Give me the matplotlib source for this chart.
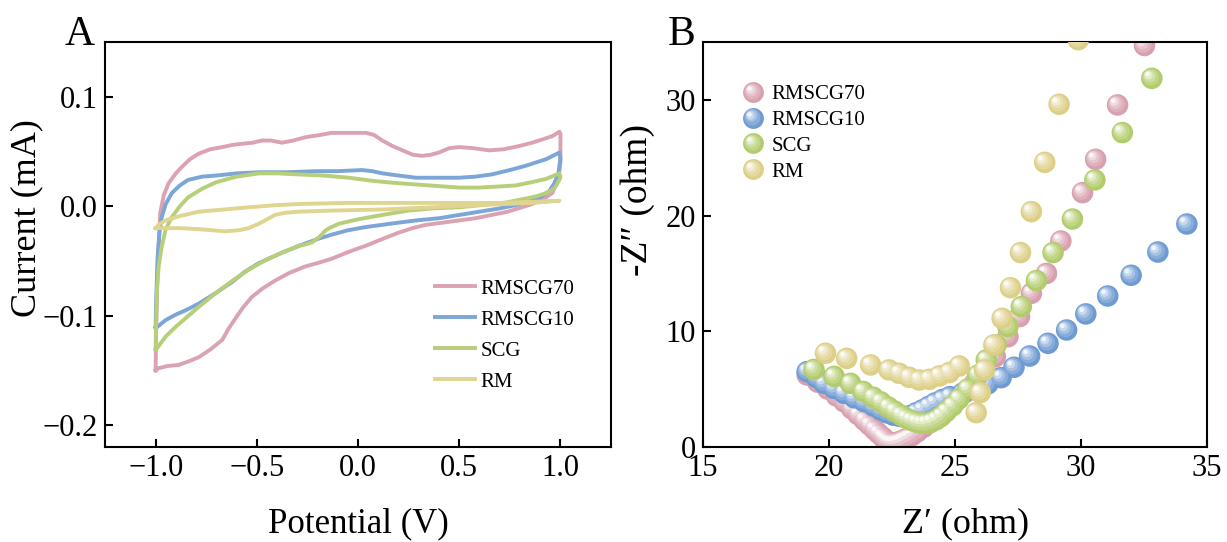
import numpy as np
import matplotlib
matplotlib.use('Agg')
import matplotlib.pyplot as plt
from matplotlib.transforms import offset_copy
from matplotlib.legend_handler import HandlerBase
from matplotlib.lines import Line2D
from matplotlib.colors import to_rgb

plt.rcParams['font.family'] = ['Liberation Serif', 'DejaVu Serif']

names = ['RMSCG70', 'RMSCG10', 'SCG', 'RM']
line_colors = ['#dba3b1', '#7ca5d8', '#b6cf78', '#e0d590']
ball_colors = ['#d8a0ae', '#6f9bd3', '#b2cc6c', '#ddcf88']

########## CV loops (potential in V, current in mA) ##########
cv_v_70 = [-1.0, -0.998, -0.994, -0.988, -0.977, -0.96, -0.936, -0.90, -0.87, -0.83, -0.787,
           -0.73, -0.67, -0.62, -0.574, -0.52, -0.475, -0.43, -0.376, -0.32, -0.26, -0.19,
           -0.13, -0.05, 0.04, 0.08, 0.12, 0.17, 0.22, 0.27, 0.317, 0.36, 0.40, 0.45, 0.50,
           0.57, 0.648, 0.72, 0.797, 0.86, 0.911, 0.96, 0.995, 1.0, 1.0, 0.99, 0.96, 0.911,
           0.86, 0.81, 0.74, 0.66, 0.58, 0.50, 0.42, 0.336, 0.27, 0.203, 0.12, 0.04, -0.05,
           -0.13, -0.20, -0.26, -0.34, -0.41, -0.47, -0.525, -0.57, -0.60, -0.64, -0.67,
           -0.73, -0.787, -0.84, -0.886, -0.94, -0.985, -1.0]
cv_i_70 = [-0.150, -0.12, -0.08, -0.045, -0.006, 0.010, 0.021, 0.030, 0.036, 0.043, 0.048,
           0.052, 0.054, 0.056, 0.057, 0.058, 0.060, 0.060, 0.058, 0.060, 0.063, 0.065,
           0.067, 0.067, 0.067, 0.065, 0.060, 0.055, 0.051, 0.047, 0.046, 0.047, 0.049, 0.053,
           0.054, 0.053, 0.051, 0.052, 0.055, 0.058, 0.061, 0.064, 0.068, 0.066, 0.040, 0.025,
           0.012, 0.006, 0.002, -0.001, -0.005, -0.008, -0.011, -0.013, -0.015, -0.017, -0.020,
           -0.024, -0.030, -0.036, -0.042, -0.048, -0.052, -0.055, -0.061, -0.068, -0.075,
           -0.083, -0.093, -0.101, -0.112, -0.122, -0.131, -0.138, -0.142, -0.145, -0.146,
           -0.148, -0.150]

cv_v_10 = [-1.0, -0.997, -0.99, -0.98, -0.97, -0.95, -0.92, -0.88, -0.84, -0.77, -0.70, -0.60,
           -0.49, -0.35, -0.21, -0.10, 0.02, 0.07, 0.12, 0.20, 0.287, 0.40, 0.50, 0.58, 0.66,
           0.75, 0.83, 0.93, 0.995, 1.0, 0.99, 0.97, 0.946, 0.90, 0.86, 0.78, 0.70, 0.60, 0.50,
           0.40, 0.287, 0.16, 0.04, -0.05, -0.13, -0.20, -0.26, -0.37, -0.49, -0.56, -0.62,
           -0.70, -0.787, -0.85, -0.90, -0.95, -0.99, -1.0]
cv_i_10 = [-0.111, -0.085, -0.046, -0.022, -0.010, 0.002, 0.012, 0.019, 0.024, 0.027, 0.028,
           0.030, 0.031, 0.031, 0.032, 0.032, 0.033, 0.032, 0.030, 0.028, 0.026, 0.026, 0.026,
           0.027, 0.029, 0.033, 0.037, 0.043, 0.049, 0.044, 0.030, 0.021, 0.014, 0.008, 0.005,
           0.001, -0.002, -0.005, -0.008, -0.011, -0.013, -0.016, -0.019, -0.022, -0.026,
           -0.030, -0.034, -0.042, -0.052, -0.060, -0.069, -0.079, -0.089, -0.095, -0.099,
           -0.104, -0.110, -0.111]

cv_v_scg = [-1.0, -0.998, -0.993, -0.985, -0.97, -0.95, -0.92, -0.88, -0.84, -0.77, -0.70,
            -0.60, -0.49, -0.40, -0.29, -0.17, -0.045, 0.08, 0.20, 0.35, 0.50, 0.60, 0.70,
            0.78, 0.86, 0.93, 0.995, 1.0, 0.98, 0.96, 0.93, 0.88, 0.83, 0.72, 0.61, 0.50, 0.37,
            0.25, 0.12, 0.0, -0.094, -0.13, -0.16, -0.19, -0.227, -0.26, -0.29, -0.37, -0.455,
            -0.54, -0.62, -0.70, -0.787, -0.85, -0.90, -0.95, -0.99, -1.0]
cv_i_scg = [-0.131, -0.110, -0.077, -0.055, -0.037, -0.021, -0.010, 0.000, 0.008, 0.016,
            0.022, 0.027, 0.030, 0.030, 0.029, 0.028, 0.026, 0.023, 0.021, 0.019, 0.017, 0.017,
            0.018, 0.019, 0.022, 0.025, 0.030, 0.026, 0.019, 0.015, 0.012, 0.009, 0.007, 0.003,
            0.001, -0.001, -0.002, -0.004, -0.008, -0.012, -0.016, -0.019, -0.022, -0.028,
            -0.033, -0.035, -0.036, -0.042, -0.049, -0.058, -0.068, -0.079, -0.092, -0.102,
            -0.110, -0.119, -0.129, -0.131]

cv_v_rm = [-1.0, -0.98, -0.95, -0.88, -0.787, -0.66, -0.54, -0.40, -0.29, -0.05, 0.2, 0.45,
           0.70, 0.86, 0.995, 0.93, 0.86, 0.60, 0.37, 0.12, -0.13, -0.29, -0.36, -0.41, -0.45,
           -0.49, -0.54, -0.59, -0.655, -0.72, -0.787, -0.88, -0.95, -1.0]
cv_i_rm = [-0.020, -0.016, -0.013, -0.009, -0.005, -0.003, -0.001, 0.001, 0.002, 0.003, 0.003,
           0.003, 0.003, 0.004, 0.005, 0.004, 0.003, 0.001, -0.001, -0.003, -0.004, -0.005,
           -0.006, -0.008, -0.012, -0.016, -0.020, -0.022, -0.023, -0.022, -0.021, -0.020,
           -0.020, -0.020]

cv_v = [cv_v_70, cv_v_10, cv_v_scg, cv_v_rm]
cv_i = [cv_i_70, cv_i_10, cv_i_scg, cv_i_rm]

########## Nyquist data (Z' and -Z'' in ohm) ##########
zre_70 = [19.13, 19.55, 19.95, 20.3, 20.6, 20.9, 21.15, 21.4, 21.6, 21.8, 21.95, 22.1, 22.2,
          22.3, 22.4, 22.5, 22.6, 22.7, 22.8, 22.9, 23.0, 23.15, 23.3, 23.5, 23.75, 24.0, 24.3,
          24.65, 25.0, 25.4, 25.8, 26.2, 26.6, 27.1, 27.56, 28.03, 28.63, 29.2, 30.06, 30.58,
          31.45, 32.52]
zim_70 = [6.22, 5.6, 5.0, 4.4, 3.9, 3.3, 2.8, 2.3, 1.9, 1.5, 1.2, 0.9, 0.7, 0.5, 0.4, 0.35,
          0.35, 0.4, 0.45, 0.55, 0.65, 0.8, 1.0, 1.3, 1.7, 2.1, 2.6, 3.2, 3.9, 4.7, 5.6, 6.6,
          7.8, 9.53, 11.27, 13.28, 15.0, 17.8, 21.98, 24.86, 29.56, 34.7]

zre_10 = [19.13, 19.5, 19.8, 20.2, 20.59, 21.0, 21.39, 21.75, 22.05, 22.3, 22.55, 22.8, 23.0,
          23.2, 23.45, 23.7, 23.95, 24.2, 24.5, 24.8, 25.3, 25.8, 26.3, 26.83, 27.34, 27.96,
          28.69, 29.43, 30.19, 31.06, 31.99, 33.05, 34.2]
zim_10 = [6.51, 6.0, 5.5, 5.05, 4.64, 4.25, 3.92, 3.55, 3.2, 2.95, 2.75, 2.65, 2.62, 2.7,
          2.95, 3.2, 3.5, 3.8, 4.1, 4.35, 4.65, 5.0, 5.45, 5.99, 6.89, 7.86, 8.96, 10.11,
          11.5, 13.05, 14.84, 16.85, 19.27]

zre_scg = [19.4, 20.2, 20.85, 21.35, 21.75, 22.05, 22.35, 22.6, 22.85, 23.05, 23.25, 23.45,
           23.65, 23.85, 24.05, 24.25, 24.45, 24.65, 24.9, 25.15, 25.5, 25.9, 26.24, 26.63,
           27.1, 27.63, 28.23, 28.89, 29.66, 30.55, 31.64, 32.81]
zim_scg = [6.7, 6.1, 5.5, 4.8, 4.3, 3.9, 3.45, 3.1, 2.75, 2.5, 2.3, 2.15, 2.05, 2.05, 2.15,
           2.35, 2.65, 3.05, 3.55, 4.15, 5.0, 6.2, 7.52, 8.82, 10.4, 12.13, 14.38, 16.8, 19.7,
           23.08, 27.17, 31.86]

zre_rm = [19.86, 20.7, 21.65, 22.38, 22.78, 23.18, 23.58, 23.98, 24.38, 24.77, 25.17, 25.84,
          26.0, 26.17, 26.54, 26.87, 27.2, 27.6, 28.03, 28.56, 29.13, 29.89]
zim_rm = [8.1, 7.66, 7.09, 6.66, 6.37, 6.02, 5.79, 5.85, 6.14, 6.43, 7.0, 2.97, 4.7, 6.66,
          8.82, 11.12, 13.77, 16.8, 20.34, 24.6, 29.62, 35.2]

zre = [zre_70, zre_10, zre_scg, zre_rm]
zim = [zim_70, zim_10, zim_scg, zim_rm]

########## glossy ball layers: (diameter fraction, white mix) ##########
layers = [(1.0, 0.0), (0.78, 0.18), (0.58, 0.38), (0.40, 0.62), (0.22, 0.9)]


def mix_white(c, t):
    c = np.array(to_rgb(c))
    return tuple(c + (1 - c) * t)


def draw_balls(ax, fig, x, y, color, d=15.5, z=2):
    r = d / 2.0
    for k, (frac, t) in enumerate(layers):
        off = 0.5 * r * (1 - frac)
        tr = offset_copy(ax.transData, fig=fig, x=-off, y=off, units='points')
        ax.scatter(x, y, s=(d * frac) ** 2, color=mix_white(color, t), edgecolors='none',
                   transform=tr, zorder=z + k * 0.01)


class BallHandler(HandlerBase):
    def create_artists(self, legend, orig_handle, xdescent, ydescent, width, height,
                       fontsize, trans):
        color = orig_handle.get_color()
        d = orig_handle.get_markersize()
        cx = width / 2.0 - xdescent
        cy = height / 2.0 - ydescent
        arts = []
        for frac, t in layers:
            off = 0.5 * d / 2.0 * (1 - frac)
            m = Line2D([cx - off], [cy + off], marker='o', linestyle='none',
                       markersize=d * frac, markeredgewidth=0,
                       color=mix_white(color, t), transform=trans)
            arts.append(m)
        return arts


fig = plt.figure(figsize=(12.27, 5.42), dpi=100)
axA = fig.add_axes([0.0856, 0.1753, 0.4124, 0.7472])
axB = fig.add_axes([0.573, 0.1753, 0.4107, 0.7472])

### A: cyclic voltammetry ###
for i in range(4):
    axA.plot(cv_v[i], cv_i[i], color=line_colors[i], lw=2.8, label=names[i],
             solid_joinstyle='round', zorder=2 + i)
axA.set_xlim(-1.25, 1.25)
axA.set_ylim(-0.22, 0.15)
axA.set_xticks([-1.0, -0.5, 0.0, 0.5, 1.0])
axA.set_yticks([-0.2, -0.1, 0.0, 0.1])
axA.set_xlabel('Potential (V)', fontsize=25, va='top')
axA.set_ylabel('Current (mA)', fontsize=26)
axA.xaxis.set_label_coords(0.5, -0.148)
axA.yaxis.set_label_coords(-0.1225, 0.565)
axA.legend(loc='upper left', bbox_to_anchor=(0.652, 0.415), frameon=False, fontsize=15,
           handlelength=1.9, handletextpad=0.3, labelspacing=0.55, borderpad=0,
           borderaxespad=0)

### B: Nyquist plot ###
for i in range(4):
    draw_balls(axB, fig, zre[i], zim[i], ball_colors[i], z=2 + i)
axB.set_xlim(15, 35)
axB.set_ylim(0, 35)
axB.set_xticks([15, 20, 25, 30, 35])
axB.set_yticks([0, 10, 20, 30])
axB.set_xlabel('Z\u2032 (ohm)', fontsize=26, va='top')
axB.set_ylabel('-Z\u2033 (ohm)', fontsize=27)
axB.xaxis.set_label_coords(0.52, -0.148)
axB.yaxis.set_label_coords(-0.095, 0.61)
proxies = [Line2D([], [], marker='o', linestyle='none', markersize=15, color=c)
           for c in ball_colors]
axB.legend(proxies, names, handler_map={Line2D: BallHandler()}, loc='upper left',
           bbox_to_anchor=(0.078, 0.895), frameon=False, fontsize=15, handlelength=1.0,
           handletextpad=0.4, labelspacing=0.3, borderpad=0, borderaxespad=0)

for ax in (axA, axB):
    for sp in ax.spines.values():
        sp.set_linewidth(1.5)
    ax.tick_params(direction='in', length=6, width=1.5, labelsize=22, pad=5)

fig.text(0.053, 0.917, 'A', fontsize=30)
fig.text(0.544, 0.917, 'B', fontsize=30)

fig.savefig('out.png', dpi=100)
